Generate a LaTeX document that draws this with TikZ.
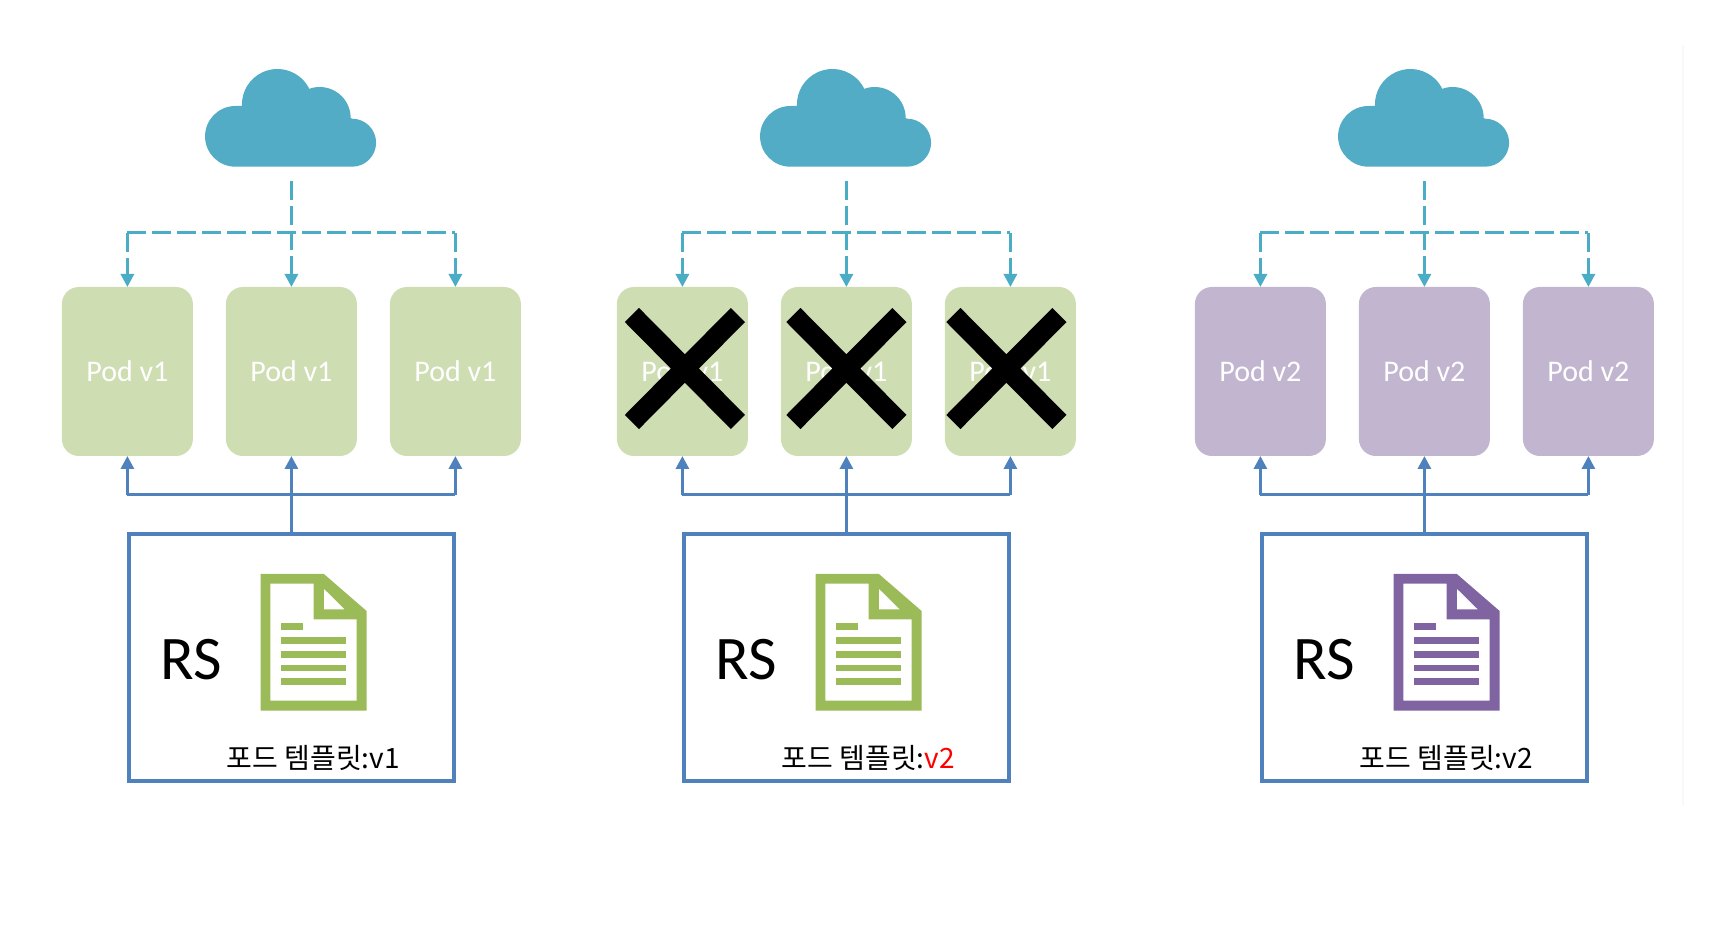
\documentclass[tikz,border=0pt]{standalone}
\usepackage{xcolor}
\usepackage{fontspec}
\usetikzlibrary{arrows.meta, positioning, shapes.misc}
\setmainfont{Carlito}
\newfontfamily\krfont{Noto Sans CJK KR}
\definecolor{cloudblue}{RGB}{82,172,197}
\definecolor{dashblue}{RGB}{75,172,198}
\definecolor{rsblue}{RGB}{79,129,189}
\definecolor{podgreen}{RGB}{207,221,179}
\definecolor{podpurple}{RGB}{193,181,207}
\definecolor{docgreen}{RGB}{155,187,89}
\definecolor{docpurple}{RGB}{128,100,162}
\definecolor{edgegrey}{RGB}{246,249,252}
\tikzset{
    cloudicon/.pic={
        \fill[cloudblue] (-56,-48.7) -- (60.7,-48.7) arc[start angle=-90, end angle=90, radius=24]
            -- (59.3,0) arc[start angle=0, end angle=109, radius=31]
            -- (18.3,28.2) arc[start angle=24.5, end angle=182.4, radius=35.5]
            -- (-56,12) arc[start angle=90, end angle=270, radius=30.35] -- cycle;
    },
    docicon/.pic={
        \fill[pic actions, even odd rule] (0,0) -- (106,0) -- (106,99.7) -- (63.3,136.7) -- (0,136.7) -- cycle
            (9.7,10) -- (96,10) -- (96,91.3) -- (53,91.3) -- (53,127) -- (9.7,127) -- cycle
            (63.3,122) -- (63.3,101.3) -- (84.3,101.3) -- cycle;
        \fill[pic actions] (20.3,80.7) rectangle (42.7,87.3);
        \fill[pic actions] (20.3,67) rectangle (85.3,74);
        \fill[pic actions] (20.3,53) rectangle (85.3,60);
        \fill[pic actions] (20.3,39.3) rectangle (85.3,46);
        \fill[pic actions] (20.3,25.7) rectangle (85.3,32.3);
    }
}
\begin{document}
\begin{tikzpicture}[x=1pt, y=1pt,
    pod/.style={rounded corners=17pt, minimum width=131pt, minimum height=169pt, outer sep=0pt, text=white, font=\fontsize{30}{36}\selectfont},
    podv1/.style={pod, fill=podgreen},
    podv2/.style={pod, fill=podpurple},
    crossmark/.style={cross out, draw=black, line width=20pt, minimum width=106pt, minimum height=107pt, inner sep=0pt, outer sep=0pt},
    rsbox/.style={draw=rsblue, line width=4pt, minimum width=325pt, minimum height=247pt, outer sep=0pt},
    rslabel/.style={font=\fontsize{62}{70}\selectfont, inner sep=0pt},
    tmpllabel/.style={font=\krfont\fontsize{28}{32}\selectfont, inner sep=0pt},
    dashline/.style={draw=dashblue, line width=3pt, dash pattern=on 19pt off 6pt},
    dasharrow/.style={dashline, -{Triangle[length=13pt, width=13pt]}},
    rsline/.style={draw=rsblue, line width=3pt},
    rsarrow/.style={rsline, -{Triangle[length=13pt, width=13pt]}}
]
    \useasboundingbox (0,0) rectangle (1716,930);
    \coordinate (edgetop) at (1683,885);
    \coordinate (edgebottom) at (1683,125);
    \draw[edgegrey, line width=1.5pt] (edgetop) -- (edgebottom);

    % first set, v1
    \node[podv1] (poda1) at (127.4,558.5) {Pod v1};
    \node[podv1, right=33pt of poda1] (poda2) {Pod v1};
    \node[podv1, right=33pt of poda2] (poda3) {Pod v1};
    \node[rsbox, below=78pt of poda2] (rsa) {};
    \node[rslabel, at={([xshift=-100pt,yshift=-2.5pt]rsa.center)}] (rsnamea) {RS};
    \node[tmpllabel, at={([xshift=22pt,yshift=-100.5pt]rsa.center)}] (tmpla) {포드 템플릿:v1};
    \pic[fill=docgreen] at ([xshift=-30.8pt,yshift=-53.2pt]rsa.center) {docicon};
    \pic at ([yshift=169pt]poda2.north) {cloudicon};
    \coordinate[above=106pt of poda2] (topa);
    \coordinate[above=54pt of poda2] (busa);
    \coordinate[below=39pt of poda2] (rowa);

    \draw[dasharrow] (topa) -- (poda2.north);
    \draw[dashline] (poda1.north |- busa) -- (poda3.north |- busa);
    \draw[dasharrow] (poda1.north |- busa) -- (poda1.north);
    \draw[dasharrow] (poda3.north |- busa) -- (poda3.north);
    \draw[rsarrow] (rsa.north) -- (poda2.south);
    \draw[rsline] (poda1.south |- rowa) -- (poda3.south |- rowa);
    \draw[rsarrow] (poda1.south |- rowa) -- (poda1.south);
    \draw[rsarrow] (poda3.south |- rowa) -- (poda3.south);

    % second set, pods crossed out
    \node[podv1] (podb1) at (682.4,558.5) {Pod v1};
    \node[podv1, right=33pt of podb1] (podb2) {Pod v1};
    \node[podv1, right=33pt of podb2] (podb3) {Pod v1};
    \node[crossmark] (crossb1) at ([xshift=2.5pt,yshift=3pt]podb1.center) {};
    \node[crossmark] (crossb2) at ([yshift=3pt]podb2.center) {};
    \node[crossmark] (crossb3) at ([xshift=-4pt,yshift=3pt]podb3.center) {};
    \node[rsbox, below=78pt of podb2] (rsb) {};
    \node[rslabel, at={([xshift=-100pt,yshift=-2.5pt]rsb.center)}] (rsnameb) {RS};
    \node[tmpllabel, at={([xshift=22pt,yshift=-100.5pt]rsb.center)}] (tmplb) {포드 템플릿:\textcolor{red}{v2}};
    \pic[fill=docgreen] at ([xshift=-30.8pt,yshift=-53.2pt]rsb.center) {docicon};
    \pic at ([yshift=169pt]podb2.north) {cloudicon};
    \coordinate[above=106pt of podb2] (topb);
    \coordinate[above=54pt of podb2] (busb);
    \coordinate[below=39pt of podb2] (rowb);

    \draw[dasharrow] (topb) -- (podb2.north);
    \draw[dashline] (podb1.north |- busb) -- (podb3.north |- busb);
    \draw[dasharrow] (podb1.north |- busb) -- (podb1.north);
    \draw[dasharrow] (podb3.north |- busb) -- (podb3.north);
    \draw[rsarrow] (rsb.north) -- (podb2.south);
    \draw[rsline] (podb1.south |- rowb) -- (podb3.south |- rowb);
    \draw[rsarrow] (podb1.south |- rowb) -- (podb1.south);
    \draw[rsarrow] (podb3.south |- rowb) -- (podb3.south);

    % third set, v2
    \node[podv2] (podc1) at (1260.4,558.5) {Pod v2};
    \node[podv2, right=33pt of podc1] (podc2) {Pod v2};
    \node[podv2, right=33pt of podc2] (podc3) {Pod v2};
    \node[rsbox, below=78pt of podc2] (rsc) {};
    \node[rslabel, at={([xshift=-100pt,yshift=-2.5pt]rsc.center)}] (rsnamec) {RS};
    \node[tmpllabel, at={([xshift=22pt,yshift=-100.5pt]rsc.center)}] (tmplc) {포드 템플릿:v2};
    \pic[fill=docpurple] at ([xshift=-30.8pt,yshift=-53.2pt]rsc.center) {docicon};
    \pic at ([yshift=169pt]podc2.north) {cloudicon};
    \coordinate[above=106pt of podc2] (topc);
    \coordinate[above=54pt of podc2] (busc);
    \coordinate[below=39pt of podc2] (rowc);

    \draw[dasharrow] (topc) -- (podc2.north);
    \draw[dashline] (podc1.north |- busc) -- (podc3.north |- busc);
    \draw[dasharrow] (podc1.north |- busc) -- (podc1.north);
    \draw[dasharrow] (podc3.north |- busc) -- (podc3.north);
    \draw[rsarrow] (rsc.north) -- (podc2.south);
    \draw[rsline] (podc1.south |- rowc) -- (podc3.south |- rowc);
    \draw[rsarrow] (podc1.south |- rowc) -- (podc1.south);
    \draw[rsarrow] (podc3.south |- rowc) -- (podc3.south);
\end{tikzpicture}
\end{document}
